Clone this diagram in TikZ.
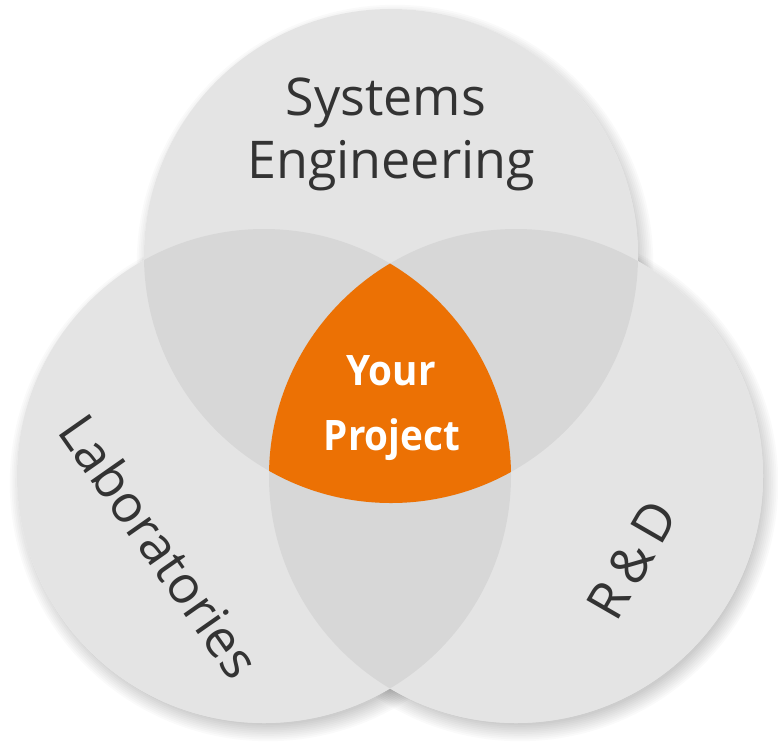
\documentclass[tikz,border=0pt]{standalone}
\usepackage{fontspec}
\setmainfont{Open Sans}
\begin{document}
\begin{tikzpicture}[x=1pt,y=-1pt,
  bubble/.style={fill=bubblegray,fill opacity=0.5},
  under/.style={fill=white},
  lbl/.style={text=labelgray,font=\fontsize{52}{60}\selectfont,inner sep=0pt},
  core/.style={text=white,font=\bfseries\fontsize{42}{50}\selectfont,inner sep=0pt,xscale=0.92,transform shape}]
\definecolor{bubblegray}{RGB}{203,203,203}
\definecolor{labelgray}{RGB}{51,51,51}
\definecolor{coreorange}{RGB}{236,113,4}
\useasboundingbox (0,0) rectangle (778,747);
\fill[white] (0,0) rectangle (778,747);
\coordinate (T) at (391,256);
\coordinate (L) at (264,476);
\coordinate (R) at (516,476);
\def\rad{247}
% soft shadows
\foreach \c in {T,L,R}{
  \foreach \i in {0,...,9}{
    \fill[black,opacity=0.02] ([shift={(4,7)}]\c) circle ({\rad-5+1.8*\i});
  }
}
% opaque underlay
\foreach \c in {T,L,R}{ \fill[under] (\c) circle (\rad); }
% translucent circles
\foreach \c in {T,L,R}{ \fill[bubble] (\c) circle (\rad); }
% triple intersection
\begin{scope}
  \clip (T) circle (\rad);
  \clip (L) circle (\rad);
  \fill[coreorange] (R) circle (\rad);
\end{scope}
\node[lbl,anchor=base] (sys) at (386,115) {Systems};
\node[lbl,anchor=base] (eng) at (391,178) {Engineering};
\node[core,anchor=base] (your) at (391,385) {Your};
\node[core,anchor=base] (proj) at (392,450) {Project};
\node[lbl,rotate=-55] (lab) at (160,546) {Laboratories};
\node[lbl,rotate=60] (rd) at (632,560) {R\,\&\,D};
\end{tikzpicture}
\end{document}
